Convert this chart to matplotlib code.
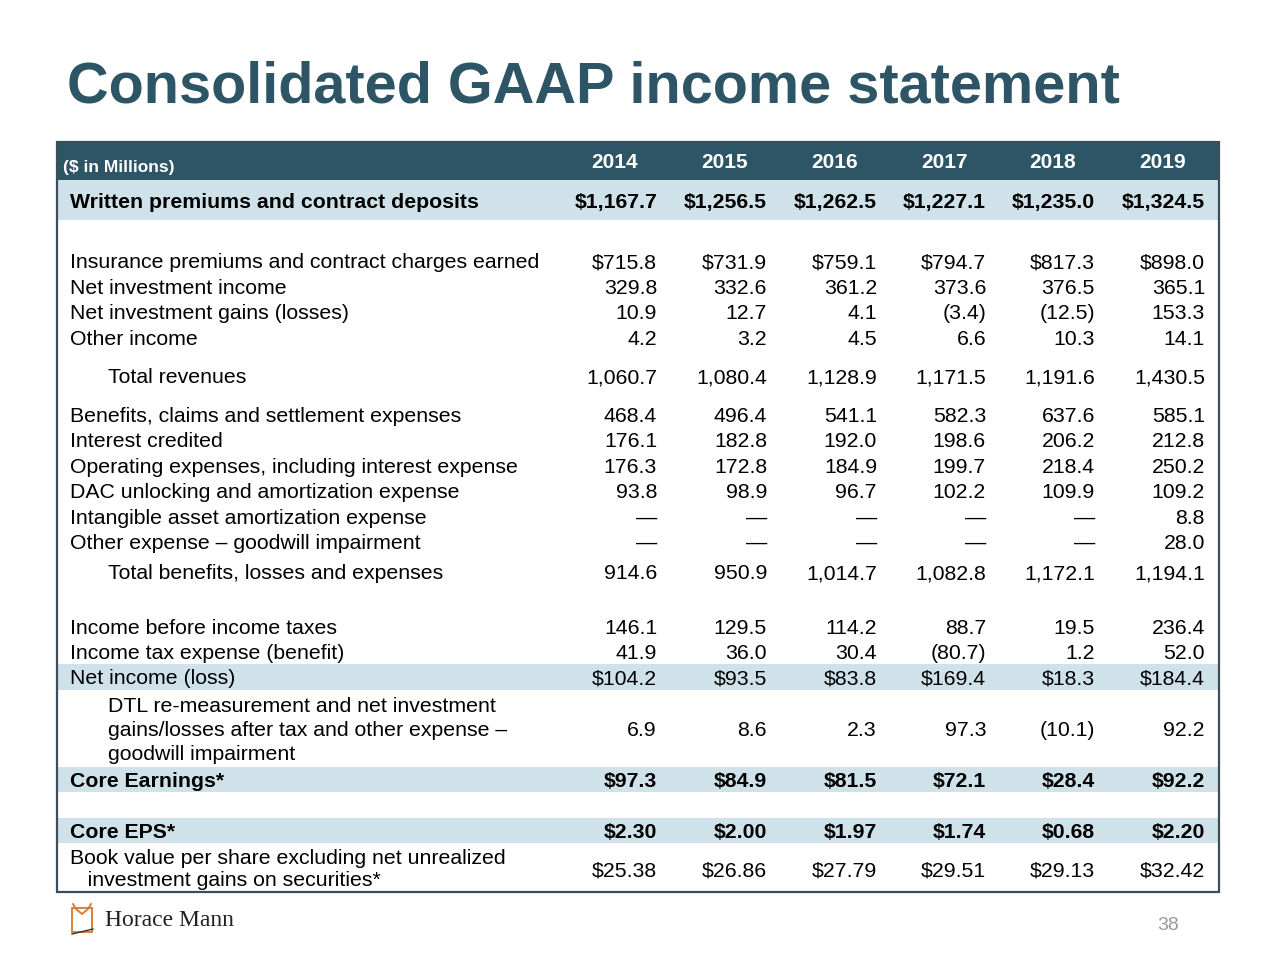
import matplotlib.pyplot as plt
from matplotlib.patches import Rectangle

plt.rcParams['font.family'] = ['Liberation Sans', 'DejaVu Sans']

TITLE = "Consolidated GAAP income statement"
UNIT_LABEL = "($ in Millions)"
YEARS = ["2014", "2015", "2016", "2017", "2018", "2019"]

written_premiums = ["$1,167.7", "$1,256.5", "$1,262.5", "$1,227.1", "$1,235.0", "$1,324.5"]
insurance_premiums = ["$715.8", "$731.9", "$759.1", "$794.7", "$817.3", "$898.0"]
net_investment_income = ["329.8", "332.6", "361.2", "373.6", "376.5", "365.1"]
net_investment_gains = ["10.9", "12.7", "4.1", "(3.4)", "(12.5)", "153.3"]
other_income = ["4.2", "3.2", "4.5", "6.6", "10.3", "14.1"]
total_revenues = ["1,060.7", "1,080.4", "1,128.9", "1,171.5", "1,191.6", "1,430.5"]
benefits_claims = ["468.4", "496.4", "541.1", "582.3", "637.6", "585.1"]
interest_credited = ["176.1", "182.8", "192.0", "198.6", "206.2", "212.8"]
operating_expenses = ["176.3", "172.8", "184.9", "199.7", "218.4", "250.2"]
dac_unlocking = ["93.8", "98.9", "96.7", "102.2", "109.9", "109.2"]
intangible_amort = ["\u2014", "\u2014", "\u2014", "\u2014", "\u2014", "8.8"]
goodwill_impairment = ["\u2014", "\u2014", "\u2014", "\u2014", "\u2014", "28.0"]
total_benefits = ["914.6", "950.9", "1,014.7", "1,082.8", "1,172.1", "1,194.1"]
income_before_tax = ["146.1", "129.5", "114.2", "88.7", "19.5", "236.4"]
income_tax = ["41.9", "36.0", "30.4", "(80.7)", "1.2", "52.0"]
net_income = ["$104.2", "$93.5", "$83.8", "$169.4", "$18.3", "$184.4"]
dtl_adjustment = ["6.9", "8.6", "2.3", "97.3", "(10.1)", "92.2"]
core_earnings = ["$97.3", "$84.9", "$81.5", "$72.1", "$28.4", "$92.2"]
core_eps = ["$2.30", "$2.00", "$1.97", "$1.74", "$0.68", "$2.20"]
book_value = ["$25.38", "$26.86", "$27.79", "$29.51", "$29.13", "$32.42"]

# (label, values, label y, values y, indent, bold, band, line spacing)
rows = [
    ("Written premiums and contract deposits", written_premiums, 201, 201, 0, True, (180, 220), 1.2),
    ("Insurance premiums and contract charges earned", insurance_premiums, 261, 261, 0, False, None, 1.2),
    ("Net investment income", net_investment_income, 287, 287, 0, False, None, 1.2),
    ("Net investment gains (losses)", net_investment_gains, 312, 312, 0, False, None, 1.2),
    ("Other income", other_income, 338, 338, 0, False, None, 1.2),
    ("Total revenues", total_revenues, 376, 376, 38, False, None, 1.2),
    ("Benefits, claims and settlement expenses", benefits_claims, 415, 415, 0, False, None, 1.2),
    ("Interest credited", interest_credited, 440, 440, 0, False, None, 1.2),
    ("Operating expenses, including interest expense", operating_expenses, 466, 466, 0, False, None, 1.2),
    ("DAC unlocking and amortization expense", dac_unlocking, 491, 491, 0, False, None, 1.2),
    ("Intangible asset amortization expense", intangible_amort, 517, 517, 0, False, None, 1.2),
    ("Other expense \u2013 goodwill impairment", goodwill_impairment, 542, 542, 0, False, None, 1.2),
    ("Total benefits, losses and expenses", total_benefits, 572, 572, 38, False, None, 1.2),
    ("Income before income taxes", income_before_tax, 627, 627, 0, False, None, 1.2),
    ("Income tax expense (benefit)", income_tax, 652, 652, 0, False, None, 1.2),
    ("Net income (loss)", net_income, 677, 677, 0, False, (664, 690), 1.2),
    ("DTL re-measurement and net investment\ngains/losses after tax and other expense \u2013\ngoodwill impairment",
     dtl_adjustment, 729, 729, 38, False, None, 1.34),
    ("Core Earnings*", core_earnings, 780, 780, 0, True, (767, 792), 1.2),
    ("Core EPS*", core_eps, 831, 831, 0, True, (818, 843), 1.2),
    ("Book value per share excluding net unrealized\n   investment gains on securities*", book_value, 868, 869, 0, False, None, 1.26),
]

DARK = "#2E5566"
BAND = "#CFE2EA"
col_right = [657, 767, 877, 986, 1095, 1205]
FS = 15.3
DY = 1.5  # small baseline nudge

fig = plt.figure(figsize=(12.8, 9.58), dpi=100)
ax = fig.add_axes([0, 0, 1, 1])
ax.set_xlim(0, 1280)
ax.set_ylim(958, 0)
ax.axis("off")

ax.text(67, 87, TITLE, fontsize=41.5, fontweight="bold", color=DARK, va="center", ha="left")

# header bar
ax.add_patch(Rectangle((57, 142), 1162, 38, facecolor=DARK, edgecolor="none"))
ax.text(63, 167, UNIT_LABEL, fontsize=12.5, fontweight="bold", color="white", va="center", ha="left")
for x, yr in zip(col_right, YEARS):
    ax.text(x - 42, 162, yr, fontsize=15, fontweight="bold", color="white", va="center", ha="center")

for label, vals, ly, vy, indent, bold, band, lsp in rows:
    if band:
        ax.add_patch(Rectangle((57, band[0]), 1162, band[1] - band[0], facecolor=BAND, edgecolor="none"))
    w = "bold" if bold else "normal"
    ax.text(70 + indent, ly + DY, label, fontsize=FS, fontweight=w, color="black",
            va="center", ha="left", linespacing=lsp)
    for x, v in zip(col_right, vals):
        ax.text(x, vy + DY, v, fontsize=FS, fontweight=w, color="black", va="center", ha="right")

# table frame
ax.add_patch(Rectangle((57, 142), 1162, 750, facecolor="none", edgecolor="#3A4F5A", linewidth=1.6))

# logo
ox, oy = 82, 918
ax.plot([ox - 9, ox - 6, ox, ox + 6, ox + 9], [oy - 14, oy - 9, oy - 4, oy - 9, oy - 14],
        color="#D9772B", lw=1.3)
ax.add_patch(Rectangle((ox - 10, oy - 10), 20, 24, facecolor="none", edgecolor="#D9772B", lw=1.3))
ax.plot([ox - 10, ox + 11], [oy + 16, oy + 11], color="#333333", lw=1.0)
ax.text(105, 921, "Horace Mann", fontsize=17, family=["Liberation Serif", "DejaVu Serif"],
        color="#222222", va="center", ha="left")

ax.text(1168, 925, "38", fontsize=14, color="#999999", va="center", ha="center")

fig.savefig("out.png", dpi=100)
